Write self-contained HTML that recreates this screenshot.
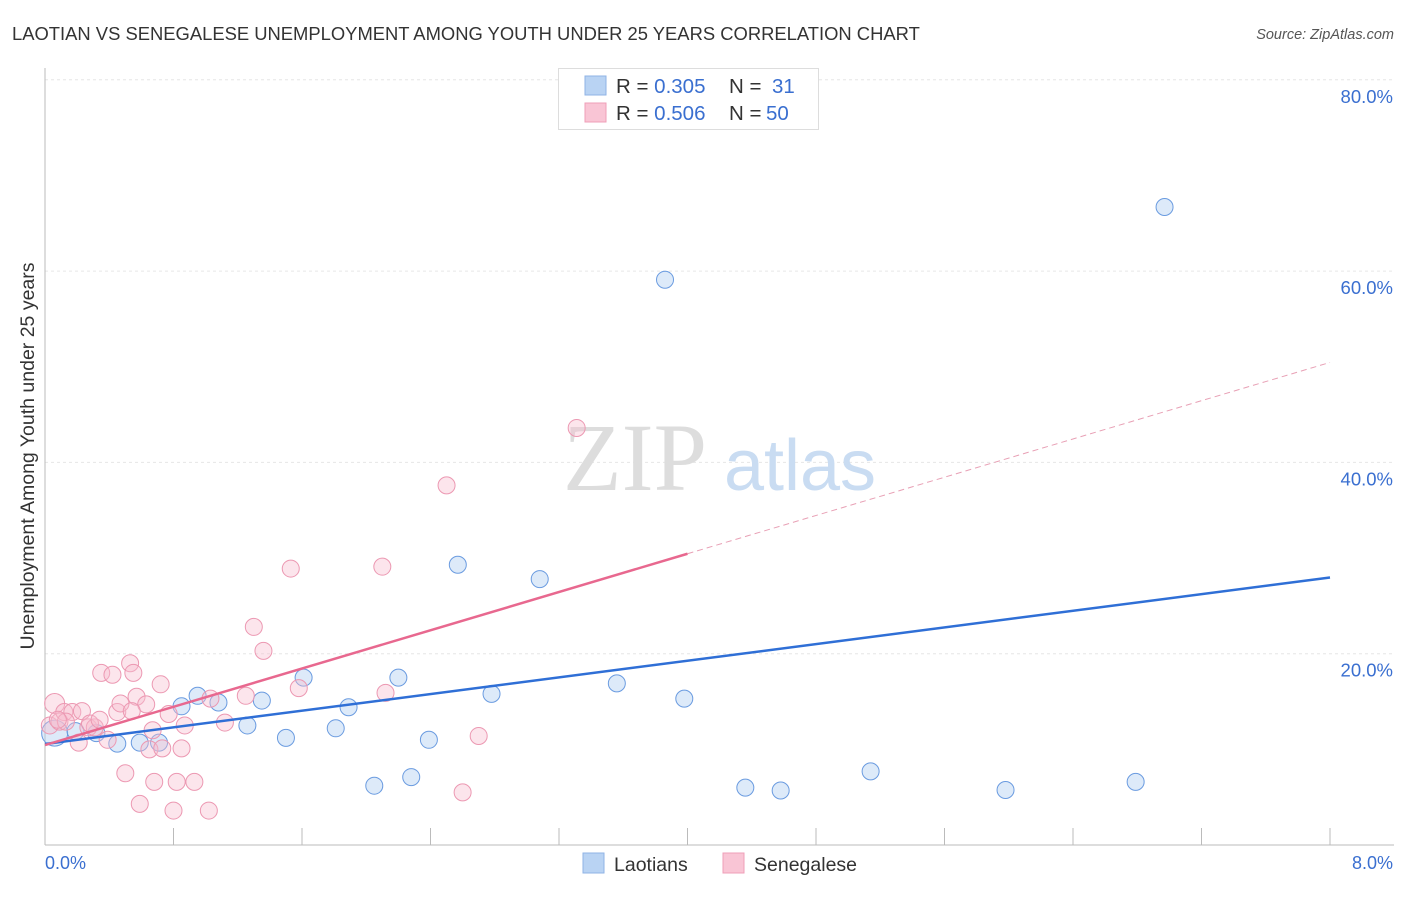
<!DOCTYPE html>
<html><head><meta charset="utf-8"><style>
body{margin:0;background:#fff;font-family:"Liberation Sans",sans-serif}
svg text{font-family:"Liberation Sans",sans-serif}
</style></head><body>
<svg id="chart" width="1406" height="892" xmlns="http://www.w3.org/2000/svg">
<text x="12" y="40" font-size="18.4" fill="#333">LAOTIAN VS SENEGALESE UNEMPLOYMENT AMONG YOUTH UNDER 25 YEARS CORRELATION CHART</text>
<text x="1394" y="39" font-size="14.5" font-style="italic" fill="#555" text-anchor="end">Source: ZipAtlas.com</text>
<g id="grid"></g>
<text x="635" y="490" font-size="96" fill="#ddd" text-anchor="middle" style="font-family:'Liberation Serif',serif">ZIP</text>
<text x="800" y="490" font-size="72" fill="#c9dcf2" text-anchor="middle">atlas</text>
<line x1="45" y1="68" x2="45" y2="845" stroke="#bbb"/>
<line x1="45" y1="845" x2="1394" y2="845" stroke="#bbb"/>
<g id="ticks"></g>
<g id="pts"></g>
<g id="lines"></g>
<text x="34" y="456" font-size="19.5" fill="#333" text-anchor="middle" transform="rotate(-90 34 456)">Unemployment Among Youth under 25 years</text>
<text x="45" y="869" font-size="18" fill="#3a6fd0">0.0%</text>
<text x="1393" y="869" font-size="18" fill="#3a6fd0" text-anchor="end">8.0%</text>
<g>
<rect x="558.5" y="68.5" width="260" height="61" fill="#fff" stroke="#ddd"/>
<rect x="585" y="76" width="21" height="19" fill="#b9d3f3" stroke="#8fb3e6"/>
<rect x="585" y="103" width="21" height="19" fill="#f9c5d5" stroke="#ef9fb8"/>
<text x="616" y="93" font-size="20.5" fill="#333">R = <tspan fill="#3a6fd0">0.305</tspan><tspan x="729">N = </tspan><tspan x="772" fill="#3a6fd0">31</tspan></text>
<text x="616" y="120" font-size="20.5" fill="#333">R = <tspan fill="#3a6fd0">0.506</tspan><tspan x="729">N = </tspan><tspan x="766" fill="#3a6fd0">50</tspan></text>
</g>
<g>
<rect x="583" y="853" width="21" height="20" fill="#b9d3f3" stroke="#8fb3e6"/>
<text x="614" y="871" font-size="19.5" fill="#333">Laotians</text>
<rect x="723" y="853" width="21" height="20" fill="#f9c5d5" stroke="#ef9fb8"/>
<text x="754" y="871" font-size="19.5" fill="#333">Senegalese</text>
</g>
</svg>
<script>
const yTicks=[20,40,60,80];
const yTickLabels=["20.0%","40.0%","60.0%","80.0%"];
const xTicks=[0,0.8,1.6,2.4,3.2,4.0,4.8,5.6,6.4,7.2,8.0];
const laoX=[0.06,0.19,0.32,0.45,0.59,0.71,0.85,0.95,1.08,1.26,1.35,1.50,1.61,1.81,1.89,2.05,2.20,2.28,2.39,2.57,2.78,3.08,3.56,3.86,3.98,4.36,4.58,5.14,5.98,6.79,6.97];
const laoY=[11.7,11.9,11.7,10.6,10.7,10.7,14.5,15.6,14.9,12.5,15.1,11.2,17.5,12.2,14.4,6.2,17.5,7.1,11.0,29.3,15.8,27.8,16.9,59.1,15.3,6.0,5.7,7.7,5.75,6.6,66.7];
const senX=[0.03,0.06,0.09,0.12,0.17,0.21,0.23,0.27,0.31,0.35,0.42,0.45,0.47,0.50,0.53,0.55,0.57,0.59,0.63,0.65,0.68,0.72,0.73,0.77,0.80,0.82,0.85,0.93,1.02,1.03,1.12,1.25,1.30,1.36,1.53,1.58,2.10,2.12,2.50,2.60,2.70,3.31,0.39,0.28,0.34,0.13,0.08,0.67,0.87,0.54];
const senY=[12.5,14.8,12.9,13.9,13.9,10.7,14.0,12.3,12.3,18.0,17.8,13.9,14.8,7.5,19.0,18.0,15.5,4.3,14.7,10.0,6.6,16.8,10.1,13.7,3.6,6.6,10.1,6.6,3.6,15.3,12.8,15.6,22.8,20.3,28.9,16.4,29.1,15.9,37.6,5.5,11.4,43.6,11.0,12.7,13.1,12.9,13.1,12.0,12.5,14.0];
const laoFit=[10.56,2.176];
const senFit=[10.45,5.0];
(function(){
const NS="http://www.w3.org/2000/svg";
const X=v=>45+v/8*1285, Y=v=>845-v/20*191.3;
function mk(t,a,p){const e=document.createElementNS(NS,t);for(const k in a)e.setAttribute(k,a[k]);p.appendChild(e);return e;}
const grid=document.getElementById('grid'),ticks=document.getElementById('ticks');
yTicks.forEach((v,i)=>{
 const l=mk('line',{x1:45,x2:1394,y1:Y(v),y2:Y(v),stroke:'#e6e6e6','stroke-dasharray':'3,3'},grid);
 
 
 const t=mk('text',{x:1393,y:Y(v)+23,'font-size':18.5,fill:'#3a6fd0','text-anchor':'end'},ticks);
 t.textContent=yTickLabels[i];
 
 
});
xTicks.forEach(v=>{
 const l=mk('line',{x1:X(v),x2:X(v),y1:828,y2:845,stroke:'#bbb'},ticks);
 
 
});
const pts=document.getElementById('pts');
laoX.forEach((x,i)=>{
 const c=mk('circle',{cx:X(x),cy:Y(laoY[i]),r:i==0?13:8.5,fill:'rgba(170,202,240,0.4)',stroke:'#6a9be0','stroke-width':1},pts);
 
 
});
senX.forEach((x,i)=>{
 const c=mk('circle',{cx:X(x),cy:Y(senY[i]),r:i==1?10:8.5,fill:'rgba(248,190,208,0.4)',stroke:'#ec98b2','stroke-width':1},pts);
 
 
});
const lines=document.getElementById('lines');
let l=mk('line',{x1:X(0),y1:Y(laoFit[0]),x2:X(8),y2:Y(laoFit[0]+8*laoFit[1]),stroke:'#2f6fd6','stroke-width':2.5},lines);


l=mk('line',{x1:X(0),y1:Y(senFit[0]),x2:X(4),y2:Y(senFit[0]+4*senFit[1]),stroke:'#e8688f','stroke-width':2.5},lines);


l=mk('line',{x1:X(4),y1:Y(senFit[0]+4*senFit[1]),x2:X(8),y2:Y(senFit[0]+8*senFit[1]),stroke:'#e8a0b5','stroke-width':1,'stroke-dasharray':'6,4'},lines);


})();
</script>
</body></html>
